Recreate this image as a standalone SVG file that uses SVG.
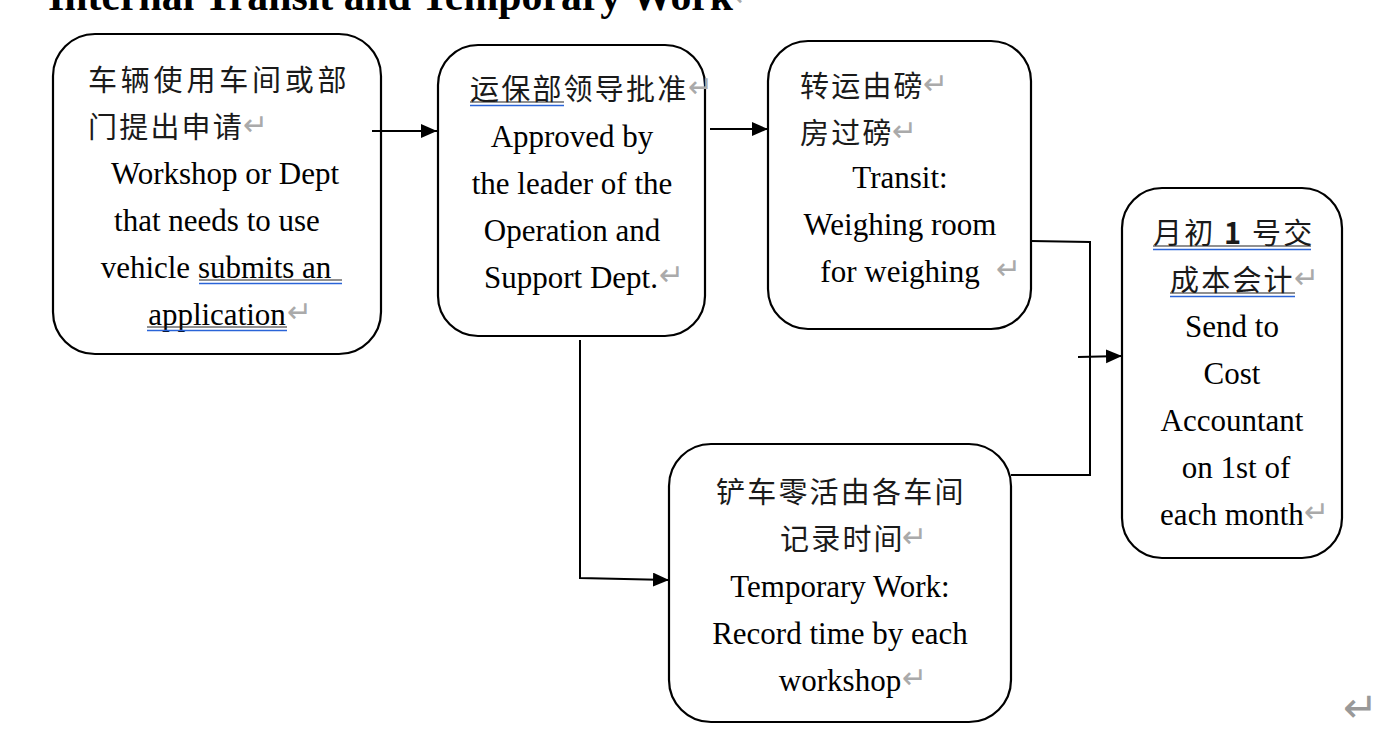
<svg xmlns="http://www.w3.org/2000/svg" width="1392" height="744" viewBox="0 0 1392 744">
<style>
.box{fill:#fff;stroke:#000;stroke-width:2.2}
.en{font-family:"Liberation Serif","Times New Roman",serif;font-size:31px;fill:#000;text-anchor:middle}
.zh{font-family:"Noto Sans CJK SC",sans-serif;font-size:29px;letter-spacing:2.2px;fill:#1a1a1a}
.ret{font-family:"DejaVu Sans",sans-serif;font-size:30px;fill:#aaa}
.ul{stroke:#222;stroke-width:1.2}
.bl{stroke:#2a64d8;stroke-width:1.5}
.con{fill:none;stroke:#000;stroke-width:2}
</style>
<defs>
<marker id="arr" markerUnits="userSpaceOnUse" markerWidth="18" markerHeight="16" refX="16" refY="7" orient="auto">
<path d="M0,0 L16,7 L0,14 z" fill="#000"/>
</marker>
</defs>
<rect width="1392" height="744" fill="#fff"/>
<g id="title">
<text x="48" y="10" font-family="Liberation Serif,serif" font-weight="bold" font-size="41.8">Internal Transit and Temporary Work</text>
<text class="ret" x="733" y="6">↵</text>
</g>
<g id="node1">
<rect class="box" x="53" y="34" width="328" height="320" rx="42"/>
<text class="zh" x="88" y="91" style="letter-spacing:3.8px">车辆使用车间或部</text>
<text class="zh" x="88" y="138">门提出申请</text>
<text class="ret" x="243" y="135">↵</text>
<text class="en" x="225" y="184">Workshop or Dept</text>
<text class="en" x="217" y="231">that needs to use</text>
<text class="en" x="216" y="278">vehicle submits an</text>
<text class="en" x="217" y="325">application</text>
<text class="ret" x="287" y="322">↵</text>
<line class="ul" x1="199" y1="280" x2="342" y2="280"/>
<line class="bl" x1="199" y1="283.5" x2="342" y2="283.5"/>
<line class="ul" x1="147" y1="327" x2="287" y2="327"/>
<line class="bl" x1="147" y1="330.5" x2="287" y2="330.5"/>
</g>
<g id="node2">
<rect class="box" x="438" y="45" width="267" height="291" rx="40"/>
<text class="zh" x="470" y="100">运保部领导批准</text>
<text class="ret" x="688" y="97">↵</text>
<line class="ul" x1="470" y1="102" x2="564" y2="102"/>
<line class="bl" x1="470" y1="105.5" x2="564" y2="105.5"/>
<text class="en" x="572" y="147">Approved by</text>
<text class="en" x="572" y="194">the leader of the</text>
<text class="en" x="572" y="241">Operation and</text>
<text class="en" x="571" y="288">Support Dept.</text>
<text class="ret" x="659" y="285">↵</text>
</g>
<g id="node3">
<rect class="box" x="768" y="41" width="263" height="288" rx="40"/>
<text class="zh" x="800" y="97">转运由磅</text>
<text class="ret" x="923" y="94">↵</text>
<text class="zh" x="800" y="144">房过磅</text>
<text class="ret" x="892" y="141">↵</text>
<text class="en" x="900" y="188">Transit:</text>
<text class="en" x="900" y="235">Weighing room</text>
<text class="en" x="900" y="282">for weighing</text>
<text class="ret" x="996" y="279">↵</text>
</g>
<g id="node4">
<rect class="box" x="1122" y="188" width="220" height="370" rx="40"/>
<text class="zh" x="1153" y="244">月初 <tspan font-weight="bold">1</tspan> 号交</text>
<line class="ul" x1="1153" y1="246" x2="1311" y2="246"/>
<line class="bl" x1="1153" y1="249.5" x2="1311" y2="249.5"/>
<text class="zh" x="1170" y="291">成本会计</text>
<text class="ret" x="1294" y="288">↵</text>
<line class="ul" x1="1170" y1="293" x2="1295" y2="293"/>
<line class="bl" x1="1170" y1="296.5" x2="1295" y2="296.5"/>
<text class="en" x="1232" y="337">Send to</text>
<text class="en" x="1232" y="384">Cost</text>
<text class="en" x="1232" y="431">Accountant</text>
<text class="en" x="1236" y="478">on 1st of</text>
<text class="en" x="1232" y="525">each month</text>
<text class="ret" x="1304" y="522">↵</text>
</g>
<g id="node5">
<rect class="box" x="669" y="444" width="342" height="278" rx="42"/>
<text class="zh" x="716" y="503">铲车零活由各车间</text>
<text class="zh" x="780" y="550">记录时间</text>
<text class="ret" x="902" y="547">↵</text>
<text class="en" x="840" y="597">Temporary Work:</text>
<text class="en" x="840" y="644">Record time by each</text>
<text class="en" x="840" y="691">workshop</text>
<text class="ret" x="902" y="688">↵</text>
</g>
<g id="connectors">
<path class="con" d="M372,131 H437" marker-end="url(#arr)"/>
<path class="con" d="M710,129 H768" marker-end="url(#arr)"/>
<path class="con" d="M580,340 V578 L669,580" marker-end="url(#arr)"/>
<path class="con" d="M1031,241 L1090,242 V475 L1011,475"/>
<path class="con" d="M1078,357 L1122,356" marker-end="url(#arr)"/>
</g>
<text class="ret" x="1343" y="722" style="font-size:42px;fill:#999">↵</text>
</svg>
